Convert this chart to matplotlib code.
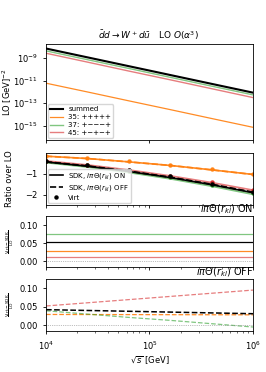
import matplotlib
matplotlib.use("Agg")
import matplotlib.pyplot as plt
import numpy as np
from matplotlib.lines import Line2D

plt.rcParams['font.size'] = 6
plt.rcParams['axes.linewidth'] = 0.6
plt.rcParams['xtick.major.width'] = 0.6
plt.rcParams['ytick.major.width'] = 0.6
plt.rcParams['xtick.minor.width'] = 0.4
plt.rcParams['xtick.major.size'] = 2.5
plt.rcParams['ytick.major.size'] = 2.5
plt.rcParams['xtick.minor.size'] = 1.5

# sqrt(s) sampling points [GeV]
sqrt_s = [1.0e4, 2.51e4, 6.31e4, 1.585e5, 3.98e5, 1.0e6]

# LO per helicity configuration [GeV^-2]
lo_35 = [6.0e-12, 1.0e-12, 1.62e-13, 2.69e-14, 4.37e-15, 7.2e-16]
lo_37 = [4.47e-9, 7.4e-10, 1.23e-10, 2.0e-11, 3.3e-12, 5.5e-13]
lo_45 = [2.75e-9, 4.5e-10, 7.2e-11, 1.2e-11, 1.95e-12, 3.16e-13]

# Virt / LO
virt_sum = [-0.38, -0.58, -0.83, -1.12, -1.46, -1.84]
virt_35 = [-0.13, -0.24, -0.40, -0.57, -0.78, -1.00]
virt_37 = [-0.39, -0.60, -0.86, -1.16, -1.51, -1.90]
virt_45 = [-0.37, -0.56, -0.80, -1.08, -1.40, -1.76]

# (Virt - SDK) / LO, i*pi*Theta(r_kl) ON
diff_on_sum = [0.0546] * 6
diff_on_35 = [0.0273] * 6
diff_on_37 = [0.0757] * 6
diff_on_45 = [0.0118] * 6

# (Virt - SDK) / LO, i*pi*Theta(r_kl) OFF
diff_off_sum = [0.042, 0.0398, 0.0376, 0.0354, 0.0332, 0.031]
diff_off_35 = [0.029, 0.0288, 0.0286, 0.0284, 0.0282, 0.028]
diff_off_37 = [0.039, 0.030, 0.021, 0.013, 0.004, -0.005]
diff_off_45 = [0.052, 0.0606, 0.0692, 0.0778, 0.0864, 0.095]

x = np.array(sqrt_s)
lo_sum = np.array(lo_35) + np.array(lo_37) + np.array(lo_45)

series = [
    # name, color, alpha, lw, lo, virt, on, off
    ('summed', 'black', 1.0, 1.5, lo_sum, virt_sum, diff_on_sum, diff_off_sum),
    ('35: +++++', 'tab:orange', 0.9, 0.9, lo_35, virt_35, diff_on_35, diff_off_35),
    ('37: +−−−+', 'tab:green', 0.6, 1.0, lo_37, virt_37, diff_on_37, diff_off_37),
    ('45: +−+−+', 'tab:red', 0.6, 1.0, lo_45, virt_45, diff_on_45, diff_off_45),
]

fig = plt.figure(figsize=(2.66, 3.72), dpi=100)
left, width = 0.173, 0.778
ax1 = fig.add_axes([left, 0.624, width, 0.258])
ax2 = fig.add_axes([left, 0.449, width, 0.140])
ax3 = fig.add_axes([left, 0.282, width, 0.137])
ax4 = fig.add_axes([left, 0.110, width, 0.140])

# draw order: colored first, summed on top
order = [1, 2, 3, 0]
for i in order:
    name, col, a, lw, lo, virt, on, off = series[i]
    virt = np.array(virt)
    ax1.plot(x, lo, color=col, alpha=a, lw=lw, label=name)
    ax2.plot(x, virt - np.array(on), color=col, alpha=a, lw=1.2)
    ax2.plot(x, virt - np.array(off), color=col, alpha=a, lw=1.2, ls='--')
    ax2.plot(x, virt, 'o', color=col, ms=2.2, alpha=0.9 if i != 0 else 1.0)
    ax3.plot(x, on, color=col, alpha=a, lw=0.9)
    ax4.plot(x, off, color=col, alpha=a, lw=0.9 if i else 1.1, ls='--')

for ax in (ax1, ax2, ax3, ax4):
    ax.set_xscale('log')
    ax.set_xlim(1e4, 1e6)
for ax in (ax1, ax2, ax3):
    ax.tick_params(axis='x', which='both', labelbottom=False)

ax1.set_yscale('log')
ax1.set_ylim(10**-16.26, 10**-7.73)
ax1.set_yticks([1e-15, 1e-13, 1e-11, 1e-9])
ax1.minorticks_off()
ax1.set_xticks([], minor=True)
ax1.set_ylabel('LO [GeV]$^{-2}$')
h, l = ax1.get_legend_handles_labels()
idx = [l.index(n) for n in ['summed', '35: +++++', '37: +−−−+', '45: +−+−+']]
ax1.legend([h[k] for k in idx], [l[k] for k in idx], loc='lower left',
           fontsize=5, handlelength=1.8, borderpad=0.3, labelspacing=0.25,
           borderaxespad=0.3)

ax2.set_ylim(-2.48, 0.0)
ax2.set_yticks([-1, -2])
ax2.set_ylabel('Ratio over LO')
leg_h = [
    Line2D([0], [0], color='black', lw=1.2),
    Line2D([0], [0], color='black', lw=1.2, ls='--'),
    Line2D([0], [0], color='black', marker='o', ms=2.2, lw=0),
]
ax2.legend(leg_h, [r'SDK, $i\pi\Theta(r_{kl})$ ON', r'SDK, $i\pi\Theta(r_{kl})$ OFF', 'Virt'],
           loc='lower left', fontsize=5, handlelength=1.8, borderpad=0.3,
           labelspacing=0.25, borderaxespad=0.3)

for ax, title in ((ax3, r'$i\pi\Theta(r_{kl})$ ON'), (ax4, r'$i\pi\Theta(r_{kl})$ OFF')):
    ax.axhline(0, color='gray', lw=0.5, ls=':')
    ax.set_ylim(-0.016, 0.125)
    ax.set_yticks([0.0, 0.05, 0.10])
    ax.set_yticklabels(['0.00', '0.05', '0.10'])
    ax.set_ylabel(r'$\frac{\rm Virt-SDK}{\rm LO}$', fontsize=4.5)
    ax.set_title(title, loc='right', fontsize=7, pad=1.0)

for ax in (ax1, ax2):
    ax.yaxis.set_label_coords(-0.155, 0.5)
for ax in (ax3, ax4):
    ax.yaxis.set_label_coords(-0.145, 0.5)

ax4.set_xlabel(r'$\sqrt{s}$ [GeV]', labelpad=2)

fig.text(0.56, 0.905, r'$\bar{d}d \to W^+ d\bar{u}$   LO $O(\alpha^3)$',
         ha='center', va='center', fontsize=6.5)

fig.savefig('out.png', dpi=100)
